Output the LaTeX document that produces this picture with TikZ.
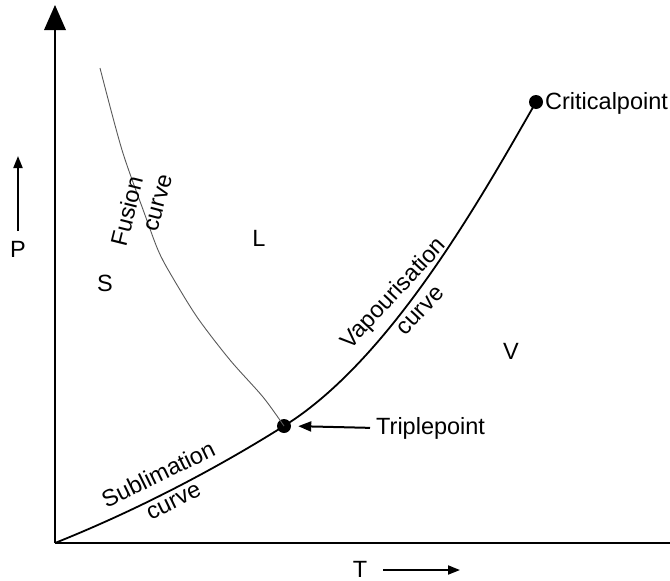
\documentclass[tikz,border=0pt]{standalone}
\usepackage{fontspec}
\setmainfont{Liberation Sans}
\usetikzlibrary{arrows.meta}
\begin{document}
\begin{tikzpicture}[x=1pt,y=-1pt,
  lbl/.style={inner sep=0pt,font=\fontsize{23.5}{27}\selectfont},
  dot/.style={circle,fill=black,inner sep=0pt,minimum size=14pt},
  axis/.style={line width=1.6pt},
  phase/.style={line width=1.8pt},
  fusion/.style={line width=0.9pt,black!65},
  arr/.style={line width=2pt,-{Triangle[length=13pt,width=10pt]}}]
\useasboundingbox (0,0) rectangle (670,581);
% axes
\coordinate (O) at (55,543);
\coordinate (Ytop) at (55,30);
\coordinate (Yt) at (55,5);
\coordinate (Xend) at (670,543);
\draw[axis] (O) -- (Ytop);
\fill (44,30) -- (66,30) -- (Yt) -- cycle;
\draw[axis] (O) -- (Xend);
% points
\node[dot] (tp) at (284,426) {};
\node[dot] (cp) at (536,102) {};
% curves
\draw[phase] (O) .. controls (150,505) and (230,460) .. (tp.center);
\draw[phase] (tp.center) .. controls (390,360) and (480,200) .. (cp.center);
\draw[fusion] plot[smooth,tension=0.5] coordinates {(100,68) (122,150) (145,215) (158,250) (170,273) (197,317) (230,360) (263,397) (284,426)};
% labels
\node[lbl,anchor=west] (tplabel) at (376,428) {Triplepoint};
\draw[arr,shorten <=6pt,shorten >=7pt] (tplabel.west) -- (tp.east);
\node[lbl,anchor=west] (cplabel) at (545,103) {Criticalpoint};
\node[lbl] (S) at (105,283) {S};
\node[lbl] (L) at (259,238) {L};
\node[lbl] (V) at (511,351) {V};
\node[lbl,rotate=76] (fus1) at (127,211) {Fusion};
\node[lbl,rotate=75] (fus2) at (159,203) {curve};
\node[lbl,rotate=26] (sub1) at (158,474) {Sublimation};
\node[lbl,rotate=26] (sub2) at (174,502) {curve};
\node[lbl,rotate=47] (vap1) at (394,294) {Vapourisation};
\node[lbl,rotate=47] (vap2) at (421,311) {curve};
% axis titles
\node[lbl] (P) at (18,249) {P};
\coordinate (Pa) at (18,231);
\coordinate (Pb) at (18,156);
\draw[line width=1.8pt,-{Triangle[length=12pt,width=9pt]}] (Pa) -- (Pb);
\node[lbl] (T) at (360,569) {T};
\coordinate (Ta) at (383,570);
\coordinate (Tb) at (460,570);
\draw[line width=1.8pt,-{Triangle[length=12pt,width=9pt]}] (Ta) -- (Tb);
\end{tikzpicture}
\end{document}
